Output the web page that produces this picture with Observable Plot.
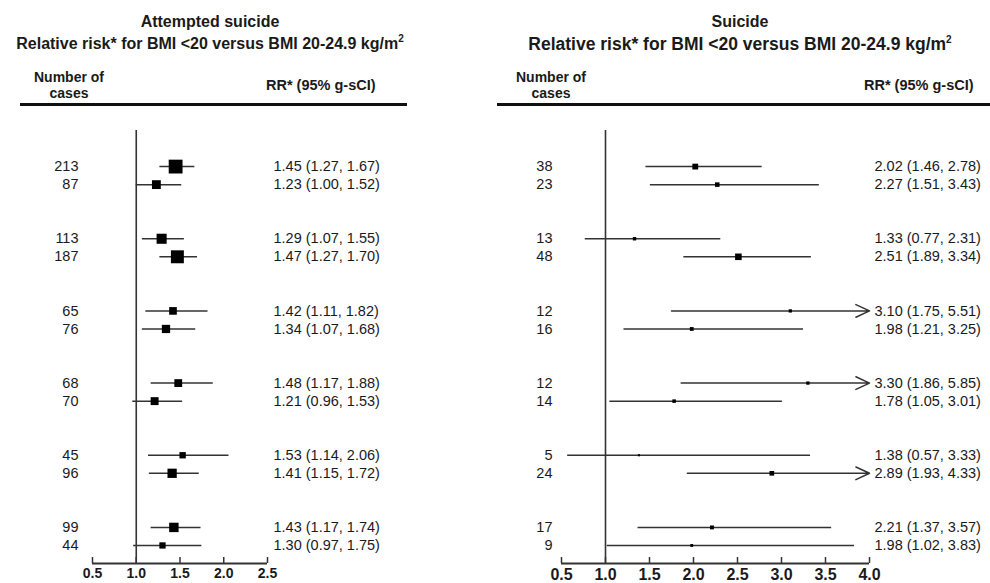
<!DOCTYPE html>
<html>
<head>
<meta charset="utf-8">
<script src="https://cdn.jsdelivr.net/npm/d3@7"></script>
<script src="https://cdn.jsdelivr.net/npm/@observablehq/plot@0.6"></script>
<style>
  html, body { margin: 0; padding: 0; background: #fff; }
  #wrap { position: relative; width: 990px; height: 583px; font-family: "Liberation Sans", Arial, sans-serif; color: #1a1a1a; overflow: hidden; }
  .t { position: absolute; text-align: center; font-weight: bold; white-space: nowrap; }
  .title { font-size: 16px; line-height: 18px; }
  .hdr { position: absolute; font-weight: bold; font-size: 14.5px; white-space: nowrap; }
  .nc { text-align: center; font-size: 14px; line-height: 16px; width: 80px; }
  .line { position: absolute; height: 3px; background: #111; }
  sup { font-size: 10px; line-height: 0; vertical-align: 7px; }
  .panel { position: absolute; top: 110px; }
  .panel svg { display: block; }
</style>
</head>
<body>
<div id="wrap">
  <div class="t title" style="left:0;width:420px;top:13px">Attempted suicide</div>
  <div class="t title" style="left:0;width:420px;top:35px">Relative risk* for BMI &lt;20 versus BMI 20-24.9 kg/m<sup>2</sup></div>
  <div class="t title" style="left:490px;width:500px;top:13px">Suicide</div>
  <div class="t title" style="left:490px;width:500px;top:35px;font-size:17.5px">Relative risk* for BMI &lt;20 versus BMI 20-24.9 kg/m<sup>2</sup></div>

  <div class="hdr nc" style="left:29px;top:69px">Number of</div>
  <div class="hdr nc" style="left:29px;top:85px">cases</div>
  <div class="hdr" style="left:266px;top:77px">RR* (95% g-sCI)</div>
  <div class="line" style="left:20px;width:387px;top:103px"></div>

  <div class="hdr nc" style="left:511px;top:69px">Number of</div>
  <div class="hdr nc" style="left:511px;top:85px">cases</div>
  <div class="hdr" style="left:864px;top:77px">RR* (95% g-sCI)</div>
  <div class="line" style="left:497px;width:493px;top:103px"></div>

  <div id="left" class="panel" style="left:0"></div>
  <div id="right" class="panel" style="left:490px"></div>
</div>
<script>
// ---- data ----
const leftCases = [213, 87, 113, 187, 65, 76, 68, 70, 45, 96, 99, 44];
const leftRR    = [1.45, 1.23, 1.29, 1.47, 1.42, 1.34, 1.48, 1.21, 1.53, 1.41, 1.43, 1.30];
const leftLo    = [1.27, 1.00, 1.07, 1.27, 1.11, 1.07, 1.17, 0.96, 1.14, 1.15, 1.17, 0.97];
const leftHi    = [1.67, 1.52, 1.55, 1.70, 1.82, 1.68, 1.88, 1.53, 2.06, 1.72, 1.74, 1.75];
const leftTicks = [0.5, 1.0, 1.5, 2.0, 2.5];

const rightCases = [38, 23, 13, 48, 12, 16, 12, 14, 5, 24, 17, 9];
const rightRR    = [2.02, 2.27, 1.33, 2.51, 3.10, 1.98, 3.30, 1.78, 1.38, 2.89, 2.21, 1.98];
const rightLo    = [1.46, 1.51, 0.77, 1.89, 1.75, 1.21, 1.86, 1.05, 0.57, 1.93, 1.37, 1.02];
const rightHi    = [2.78, 3.43, 2.31, 3.34, 5.51, 3.25, 5.85, 3.01, 3.33, 4.33, 3.57, 3.83];
const rightTicks = [0.5, 1.0, 1.5, 2.0, 2.5, 3.0, 3.5, 4.0];

const maxCases = d3.max([...leftCases, ...rightCases]);
const f2 = d3.format(".2f");
const f1 = d3.format(".1f");
const INK = "#333";

function rows(cases, rr, lo, hi) {
  return cases.map((n, i) => ({
    cases: n, rr: rr[i], lo: lo[i], hi: hi[i],
    row: Math.floor(i / 2) * 4 + (i % 2),
    label: `${f2(rr[i])} (${f2(lo[i])}, ${f2(hi[i])})`
  }));
}

function panel({data, ticks, width, marginLeft, marginRight, numDx, labDx, tickFont}) {
  const xmin = ticks[0], xmax = ticks[ticks.length - 1];
  const maxRow = d3.max(data, d => d.row);
  const within = data.filter(d => d.hi <= xmax);
  const beyond = data.filter(d => d.hi > xmax);
  return Plot.plot({
    width, height: 473,
    marginLeft, marginRight, marginTop: 20, marginBottom: 20,
    style: {fontFamily: '"Liberation Sans", Arial, sans-serif', color: "#1a1a1a", background: "white"},
    x: {domain: [xmin, xmax], label: null},
    y: {domain: [-2, maxRow + 1], reverse: true, axis: null},
    r: {type: "sqrt", domain: [0, maxCases], range: [0, 7.8]},
    marks: [
      Plot.ruleY(within, {y: "row", x1: "lo", x2: "hi", stroke: INK, strokeWidth: 1.5}),
      Plot.arrow(beyond, {x1: "lo", x2: () => xmax, y1: "row", y2: "row", stroke: INK, strokeWidth: 1.5, headLength: 15, headAngle: 50}),
      Plot.ruleX([1], {stroke: INK, strokeWidth: 1.6}),
      Plot.ruleY([maxRow + 1], {x1: () => xmin, x2: () => xmax, stroke: INK, strokeWidth: 2}),
      Plot.ruleX(ticks, {x: d => d, y1: () => maxRow + 1, y2: () => maxRow + 1, insetTop: -6, stroke: INK, strokeWidth: 1.5}),
      Plot.axisX(ticks, {tickSize: 0, tickPadding: 5, tickFormat: f1, fontSize: tickFont, fontWeight: "bold", label: null}),
      Plot.dot(data, {x: "rr", y: "row", r: "cases", symbol: "square", fill: "black", stroke: null}),
      Plot.text(data, {y: "row", text: d => String(d.cases), frameAnchor: "left", textAnchor: "end", dx: numDx, fontSize: 14.5}),
      Plot.text(data, {y: "row", text: "label", frameAnchor: "right", textAnchor: "start", dx: labDx, fontSize: 14.5})
    ]
  });
}

document.getElementById("left").append(panel({
  data: rows(leftCases, leftRR, leftLo, leftHi), ticks: leftTicks,
  width: 490, marginLeft: 92, marginRight: 223, numDx: -14, labDx: 6, tickFont: 14
}));
document.getElementById("right").append(panel({
  data: rows(rightCases, rightRR, rightLo, rightHi), ticks: rightTicks,
  width: 500, marginLeft: 71, marginRight: 121, numDx: -9, labDx: 5, tickFont: 16
}));
</script>
</body>
</html>
